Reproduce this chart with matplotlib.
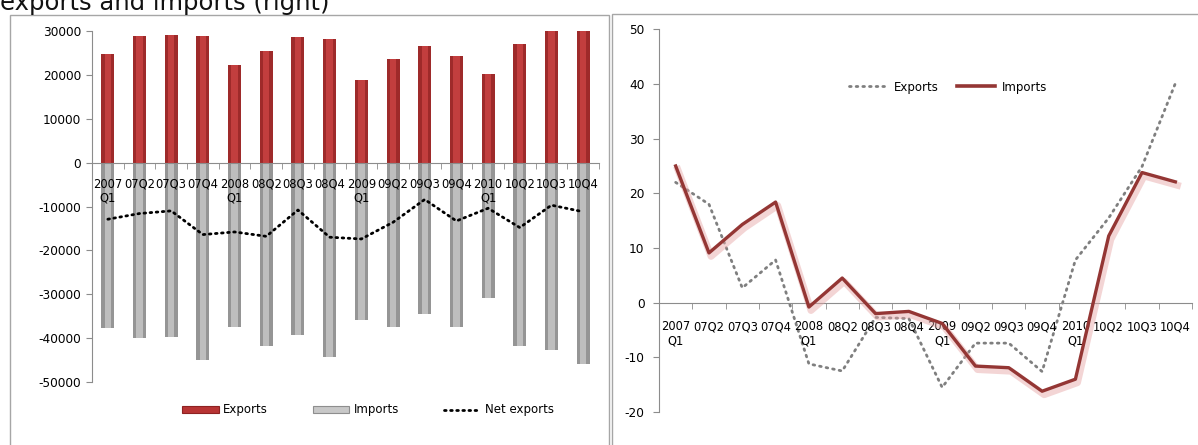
import numpy as np
import matplotlib.pyplot as plt
import matplotlib.patheffects as pe
from matplotlib.patches import Rectangle, Patch
from matplotlib.lines import Line2D

plt.rcParams['font.family'] = ['DejaVu Sans']
plt.rcParams['axes.unicode_minus'] = False

# quarters shown on both panels
quarters = ['2007\nQ1', '07Q2', '07Q3', '07Q4', '2008\nQ1', '08Q2', '08Q3', '08Q4',
            '2009\nQ1', '09Q2', '09Q3', '09Q4', '2010\nQ1', '10Q2', '10Q3', '10Q4']

# left panel: levels
exports_lvl = [24700, 28900, 29100, 28900, 22200, 25400, 28600, 28100,
               18800, 23600, 26500, 24300, 20200, 27100, 32400, 34100]
imports_lvl = [-37600, -40000, -39800, -45000, -37400, -41800, -39200, -44300,
               -35800, -37400, -34600, -37400, -30800, -41800, -42600, -45800]
net_exports = [-12900, -11600, -11000, -16400, -15800, -16800, -10800, -17000,
               -17400, -13600, -8400, -13300, -10400, -14800, -9700, -11200]

# right panel: growth rates
exports_gr = [22.0, 18.0, 2.7, 7.8, -11.2, -12.5, -2.7, -2.9,
              -15.5, -7.4, -7.4, -12.6, 7.8, 15.5, 24.9, 40.1]
imports_gr = [25.0, 9.1, 14.3, 18.4, -0.8, 4.5, -2.0, -1.6,
              -3.8, -11.6, -11.9, -16.2, -14.0, 12.2, 23.8, 22.1]

W, H = 1198, 445
fig = plt.figure(figsize=(W / 100, H / 100), dpi=100)


def px_axes(x0, x1, ytop, ybot):
    return fig.add_axes([x0 / W, (H - ybot) / H, (x1 - x0) / W, (ybot - ytop) / H])


# panel frames
fig.patches.append(Rectangle((10 / W, -0.1), 599 / W, (H - 15) / H + 0.1, transform=fig.transFigure,
                             fill=False, edgecolor='#A6A6A6', lw=1.0))
fig.patches.append(Rectangle((612 / W, -0.1), 590 / W, (H - 14) / H + 0.1, transform=fig.transFigure,
                             fill=False, edgecolor='#A6A6A6', lw=1.0))

fig.text(0.0, 1 - 10 / H, 'exports and imports (right)', fontsize=17.5, ha='left', va='baseline',
         color='#111111')

x = np.arange(len(quarters))
grey = '#8C8C8C'


def style_axes(ax, pad_x):
    ax.set_axisbelow(False)
    for s in ['top', 'right']:
        ax.spines[s].set_visible(False)
    ax.spines['bottom'].set_position(('data', 0))
    ax.spines['left'].set_color(grey)
    ax.spines['bottom'].set_color(grey)
    ax.set_xlim(-0.5, len(quarters) - 0.5)
    ax.set_xticks(x)
    ax.set_xticklabels(quarters, fontsize=8.3, linespacing=1.1)
    ax.set_xticks(np.arange(-0.5, len(quarters)), minor=True)
    ax.tick_params(axis='x', which='major', length=0, pad=pad_x)
    ax.tick_params(axis='x', which='minor', length=4, direction='out', color=grey)
    ax.tick_params(axis='y', length=4, direction='out', color=grey, labelsize=8.7)


# ---- left panel
ax1 = px_axes(92, 599, 31, 382)
ax1.bar(x, exports_lvl, width=0.41, color='#9E2A2A', zorder=2)
ax1.bar(x, exports_lvl, width=0.2, color='#C23E3E', zorder=2)
ax1.bar(x, imports_lvl, width=0.41, color='#959595', zorder=2)
ax1.bar(x, imports_lvl, width=0.2, color='#BEBEBE', zorder=2)
ax1.plot(x, net_exports, color='black', lw=2.0, linestyle=(0, (0.6, 1.6)),
         dash_capstyle='round', zorder=3)
ax1.set_ylim(-50000, 30000)
ax1.set_yticks(np.arange(-50000, 30001, 10000))
style_axes(ax1, 11)
ax1.tick_params(axis='y', pad=4)

h1 = [Patch(facecolor='#B83434', edgecolor='#8E2222', lw=0.8),
      Patch(facecolor='#C8C8C8', edgecolor='#8E8E8E', lw=0.8),
      Line2D([], [], color='black', lw=2.0, linestyle=(0, (0.6, 1.6)), dash_capstyle='round')]
fig.legend(h1, ['Exports', 'Imports', 'Net exports'], loc='center',
           bbox_to_anchor=(368 / W, 1 - 410 / H), ncol=3, frameon=False, fontsize=8.5,
           handlelength=3.1, handleheight=0.5, handletextpad=0.35, columnspacing=3.8)

# ---- right panel
ax2 = px_axes(659, 1192, 29.3, 412)
ax2.plot(x, exports_gr, color='#7F7F7F', lw=2.0, linestyle=(0, (0.6, 1.8)),
         dash_capstyle='round', zorder=2)
ax2.plot(x, imports_gr, color='#943634', lw=2.4, zorder=3,
         path_effects=[pe.SimpleLineShadow(offset=(1.5, -2.5), shadow_color='#E6A3A3',
                                           alpha=0.45, linewidth=5),
                       pe.Normal()])
ax2.set_ylim(-20, 50)
ax2.set_yticks(np.arange(-20, 51, 10))
style_axes(ax2, 12.5)
ax2.tick_params(axis='y', pad=6.5)

h2 = [Line2D([], [], color='#7F7F7F', lw=2.0, linestyle=(0, (0.6, 1.8)), dash_capstyle='round'),
      Line2D([], [], color='#943634', lw=2.6)]
ax2.legend(h2, ['Exports', 'Imports'], loc='center', bbox_to_anchor=(948 / W, 1 - 87 / H),
           bbox_transform=fig.transFigure, ncol=2, frameon=False,
           fontsize=8.5, handlelength=3.2, handletextpad=0.6, columnspacing=1.6)

fig.savefig('out.png', dpi=100)
